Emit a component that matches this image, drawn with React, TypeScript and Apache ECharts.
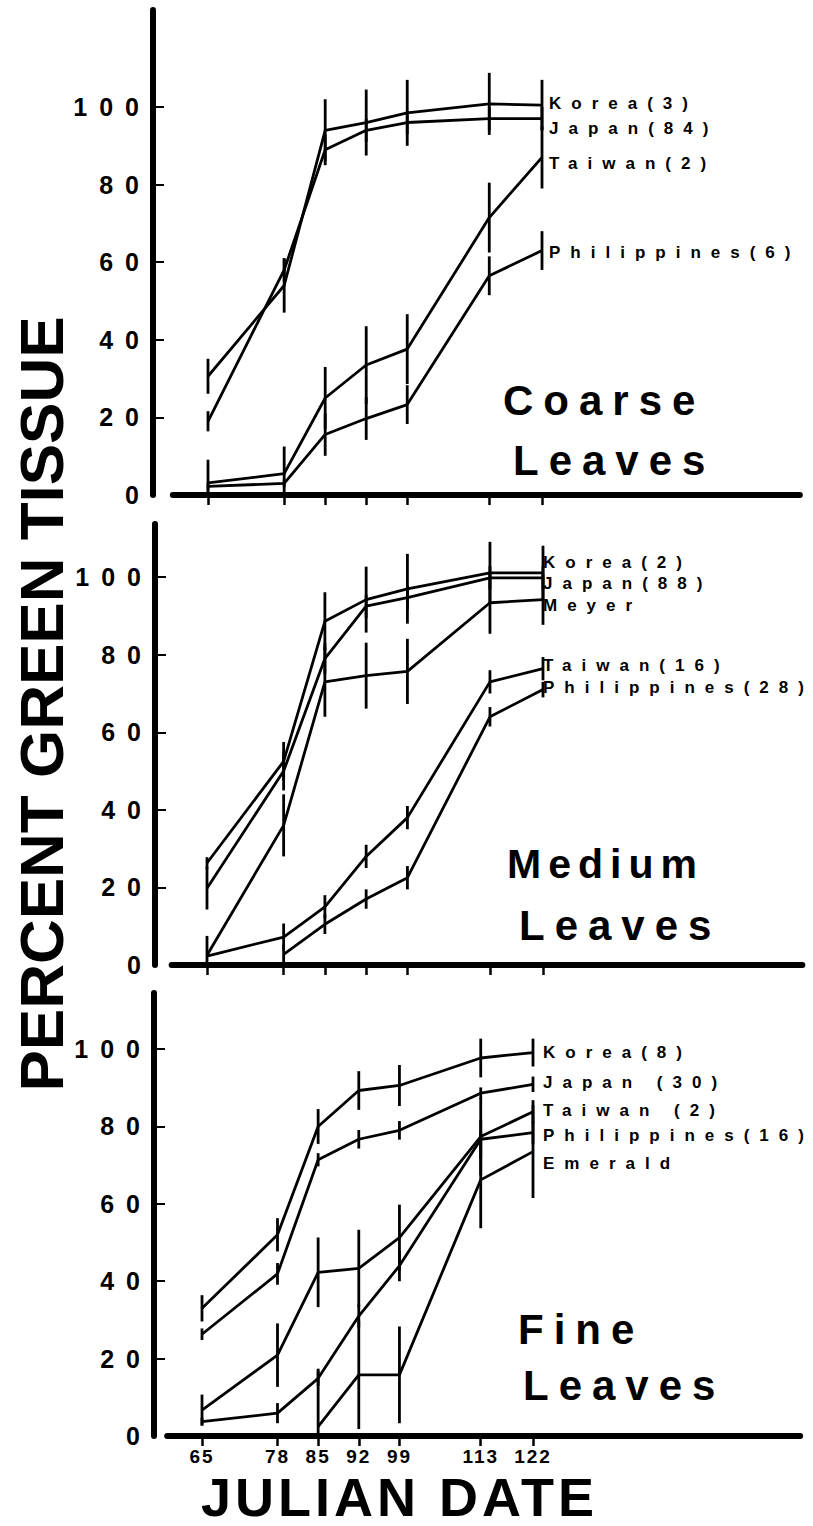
import React, { useEffect, useRef } from "react";
import * as echarts from "echarts";

// ---------- data ----------
const DAYS = [65, 78, 85, 92, 99, 113, 122];
const Y_TICK_VALUES = [20, 40, 60, 80, 100];
const Y_LABEL_VALUES = [0, 20, 40, 60, 80, 100];

// Coarse leaves
const coarseKorea = [30.6, 54, 94, 96, 98.5, 100.8, 100.5];
const coarseJapan = [19, 58, 89, 94, 96, 97, 97];
const coarseTaiwan = [3.1, 5.5, 25, 33.5, 37.6, 71.5, 87];
const coarsePhil = [2.2, 3, 15.6, 19.7, 23.3, 56.5, 63];
const coarseKoreaErr = [4.5, 7, 8, 8.5, 8.5, 8, 6.5];
const coarseJapanErr = [2.6, 3, 4, 3, 3, 3, 3];
const coarseTaiwanErr = [6, 7, 8, 10, 9, 9, 8];
const coarsePhilErr = [1, 1, 5.5, 5.5, 5, 5, 5];

// Medium leaves
const mediumKorea = [26.3, 52.5, 88.6, 94.2, 97, 101.1, 101.1];
const mediumJapan = [19.8, 50, 79, 92.5, 94.7, 99.8, 99.8];
const mediumMeyer = [2.5, 36, 73, 74.6, 75.7, 93.4, 94.2];
const mediumTaiwan = [2.3, 7.2, 15, 28, 38, 73, 76.4];
const mediumPhil = [null, 2.75, 10.5, 17, 22.5, 64, 71];
const mediumKoreaErr = [1.5, 5, 7.5, 8.5, 9, 8, 7];
const mediumJapanErr = [5.5, 5, 4, 3, 3, 3, 3];
const mediumMeyerErr = [5, 8, 9, 8.5, 8.4, 8, 6.5];
const mediumTaiwanErr = [0, 3.5, 3, 3, 3, 3, 3];
const mediumPhilErr = [0, 2.5, 2.5, 2.5, 3, 2.5, 2];

// Fine leaves
const fineKorea = [33, 52, 80, 89.3, 90.6, 97.7, 99.1];
const fineJapan = [26.3, 41.9, 71.4, 76.7, 79, 88.6, 90.9];
const fineTaiwan = [6.7, 20.9, 42.3, 43.3, 51.3, 77.4, 83.8];
const finePhil = [3.7, 5.9, 14.9, 31, 44, 76.7, 78.4];
const fineEmerald = [null, null, 2.4, 15.8, 15.8, 66.2, 73.5];
const fineKoreaErr = [3.4, 4.3, 4.5, 5, 5.3, 5, 3.6];
const fineJapanErr = [1.5, 2.8, 1.7, 2.4, 2.4, 1.5, 2];
const fineTaiwanErr = [4, 8.2, 9, 10, 8.5, 10, 3];
const finePhilErr = [1, 2.6, 2, 3, 4, 5, 3];
const fineEmeraldErr = [0, 0, 15, 14, 12.5, 12.5, 12];

const coarseLabels = ["Korea(3)", "Japan(84)", "Taiwan(2)", "Philippines(6)"];
const mediumLabels = ["Korea(2)", "Japan(88)", "Meyer", "Taiwan(16)", "Philippines(28)"];
const fineLabels = ["Korea(8)", "Japan (30)", "Taiwan (2)", "Philippines(16)", "Emerald"];

// ---------- layout ----------
const FONT = "'Liberation Sans', Arial, sans-serif";
const PANELS = [
  {
    x65: 208, x122: 542, xmin: 59, xmax: 166, zeroY: 495, top: 10, ymax: 125, axisX: 153,
    series: [coarseKorea, coarseJapan, coarseTaiwan, coarsePhil],
    errs: [coarseKoreaErr, coarseJapanErr, coarseTaiwanErr, coarsePhilErr],
    labels: coarseLabels, labelX: 549, labelY: [103, 128, 163, 252],
    title: ["Coarse", "Leaves"], titleX: [503, 513], titleY: [400, 460],
  },
  {
    x65: 207, x122: 543, xmin: 59, xmax: 166, zeroY: 965, top: 524, ymax: 113.7, axisX: 155,
    series: [mediumKorea, mediumJapan, mediumMeyer, mediumTaiwan, mediumPhil],
    errs: [mediumKoreaErr, mediumJapanErr, mediumMeyerErr, mediumTaiwanErr, mediumPhilErr],
    labels: mediumLabels, labelX: 543, labelY: [562, 583, 605, 665, 687],
    title: ["Medium", "Leaves"], titleX: [507, 519], titleY: [864, 925],
  },
  {
    x65: 202, x122: 533, xmin: 59, xmax: 168, zeroY: 1436, top: 993, ymax: 114.5, axisX: 154,
    series: [fineKorea, fineJapan, fineTaiwan, finePhil, fineEmerald],
    errs: [fineKoreaErr, fineJapanErr, fineTaiwanErr, finePhilErr, fineEmeraldErr],
    labels: fineLabels, labelX: 543, labelY: [1052, 1082, 1110, 1135, 1163],
    title: ["Fine", "Leaves"], titleX: [518, 523], titleY: [1329, 1385],
  },
];

const css = `
.fig text[style*="17px"]{letter-spacing:10px}
.fig text[style*="25px"]{letter-spacing:12px}
.fig text[style*="42px"]{letter-spacing:10px}
.fig text[style*="41px"]{letter-spacing:7px}
.fig text[style*="19px"]{letter-spacing:2px}
.fig text[style*="54px"]{letter-spacing:4px}
`;

function buildOption() {
  const grid: any[] = [];
  const xAxis: any[] = [];
  const yAxis: any[] = [];
  const series: any[] = [];
  const graphic: any[] = [];

  PANELS.forEach((p, i) => {
    const ppd = (p.x122 - p.x65) / (122 - 65);
    const left = p.x65 - (65 - p.xmin) * ppd;
    const width = (p.xmax - p.xmin) * ppd;
    const height = p.zeroY - p.top;
    grid.push({ left, top: p.top, width, height, containLabel: false });
    xAxis.push({
      gridIndex: i,
      type: "value",
      min: p.xmin,
      max: p.xmax,
      axisLine: { show: true, onZero: false, lineStyle: { color: "#000", width: 6 } },
      axisTick: { show: true, customValues: DAYS, length: 10, lineStyle: { color: "#000", width: 2.5 } },
      axisLabel: {
        show: i === 2,
        customValues: DAYS,
        margin: 11,
        color: "#000",
        fontFamily: FONT,
        fontWeight: "bold",
        fontSize: 19,
      },
      splitLine: { show: false },
    });
    yAxis.push({
      gridIndex: i,
      type: "value",
      min: 0,
      max: p.ymax,
      offset: left - p.axisX,
      axisLine: { show: true, lineStyle: { color: "#000", width: 6 } },
      axisTick: { show: true, inside: true, length: 11, customValues: Y_TICK_VALUES, lineStyle: { color: "#000", width: 2 } },
      axisLabel: {
        customValues: Y_LABEL_VALUES,
        margin: 2,
        color: "#000",
        fontFamily: FONT,
        fontWeight: "bold",
        fontSize: 25,
      },
      splitLine: { show: false },
    });

    p.series.forEach((vals, k) => {
      series.push({
        type: "line",
        xAxisIndex: i,
        yAxisIndex: i,
        data: DAYS.map((d, j) => [d, vals[j]]),
        showSymbol: false,
        connectNulls: false,
        lineStyle: { color: "#000", width: 2.8 },
        itemStyle: { color: "#000" },
        z: 3,
      });
      const errs = p.errs[k];
      const barData: any[] = [];
      DAYS.forEach((d, j) => {
        const v = vals[j];
        const e = errs[j];
        if (v == null || !e) return;
        barData.push([d, Math.max(0, v - e), v + e]);
      });
      series.push({
        type: "custom",
        xAxisIndex: i,
        yAxisIndex: i,
        data: barData,
        encode: { x: 0, y: [1, 2] },
        renderItem: (params: any, api: any) => {
          const x = api.value(0);
          const a = api.coord([x, api.value(1)]);
          const b = api.coord([x, api.value(2)]);
          return {
            type: "line",
            shape: { x1: a[0], y1: a[1], x2: b[0], y2: b[1] },
            style: { stroke: "#000", lineWidth: 2.8 },
          };
        },
        z: 4,
      });
    });

    p.labels.forEach((t, k) => {
      graphic.push({
        type: "text",
        x: p.labelX,
        y: p.labelY[k],
        style: { text: t, font: `bold 17px ${FONT}`, fill: "#000", textAlign: "left", verticalAlign: "middle" },
      });
    });
    p.title.forEach((t, k) => {
      const size = t === "Medium" ? 41 : 42;
      graphic.push({
        type: "text",
        x: p.titleX[k],
        y: p.titleY[k],
        style: { text: t, font: `bold ${size}px ${FONT}`, fill: "#000", textAlign: "left", verticalAlign: "middle" },
      });
    });
  });

  graphic.push({
    type: "text",
    x: 41,
    y: 704,
    rotation: Math.PI / 2,
    style: { text: "PERCENT GREEN TISSUE", font: `bold 62px ${FONT}`, fill: "#000", textAlign: "center", verticalAlign: "middle" },
  });
  graphic.push({
    type: "text",
    x: 201,
    y: 1497,
    style: { text: "JULIAN DATE", font: `bold 54px ${FONT}`, fill: "#000", textAlign: "left", verticalAlign: "middle" },
  });

  return {
    animation: false,
    backgroundColor: "#fff",
    grid,
    xAxis,
    yAxis,
    series,
    graphic,
  };
}

export default function App() {
  const ref = useRef<HTMLDivElement>(null);
  useEffect(() => {
    if (!ref.current) return;
    const chart = echarts.init(ref.current, undefined, { renderer: "svg", width: 813, height: 1526 });
    chart.setOption(buildOption());
    return () => chart.dispose();
  }, []);
  return (
    <>
      <style>{css}</style>
      <div
        className="fig"
        ref={ref}
        style={{ position: "absolute", left: 0, top: 0, width: 813, height: 1526, background: "#fff" }}
      />
    </>
  );
}
